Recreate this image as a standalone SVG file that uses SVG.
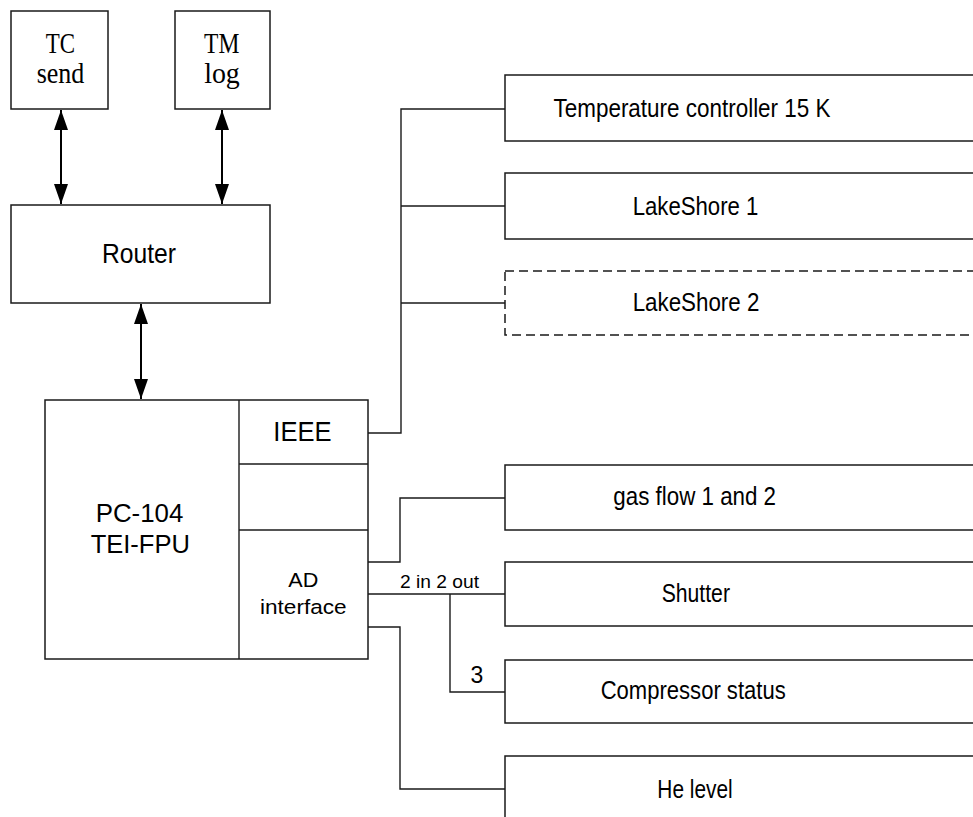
<svg xmlns="http://www.w3.org/2000/svg" width="973" height="817" viewBox="0 0 973 817">
  <style>
    .box { fill: #fff; stroke: #1a1a1a; stroke-width: 1.5; }
    .dash { stroke-dasharray: 9 5; }
    .wire { fill: none; stroke: #1a1a1a; stroke-width: 1.4; }
    .arrow { fill: none; stroke: #000; stroke-width: 2; marker-start: url(#head); marker-end: url(#head); }
    .sans { font-family: "Liberation Sans", Arial, sans-serif; fill: #000; text-anchor: middle; }
    .serif { font-family: "Liberation Serif", "Times New Roman", serif; fill: #000; text-anchor: middle; }
  </style>
  <defs>
    <marker id="head" markerUnits="userSpaceOnUse" markerWidth="20" markerHeight="14" refX="20" refY="7" orient="auto-start-reverse">
      <path d="M0,0 L20,7 L0,14 Z" fill="#000"/>
    </marker>
  </defs>
  <rect width="973" height="817" fill="#fff"/>

  <!-- connectors -->
  <g id="connectors">
    <line class="arrow" x1="61" y1="110" x2="61" y2="204"/>
    <line class="arrow" x1="222" y1="110" x2="222" y2="204"/>
    <line class="arrow" x1="141" y1="304" x2="141" y2="399"/>
    <!-- IEEE bus -->
    <path class="wire" d="M368,433 H401 V109 H505 M401,206 H505 M401,303 H505"/>
    <!-- AD interface lines -->
    <path class="wire" d="M368,562 H400 V498 H505"/>
    <path class="wire" d="M368,594 H505 M450,594 V692 H505"/>
    <path class="wire" d="M368,627 H400 V789 H505"/>
    <text class="sans" x="439.5" y="587.7" font-size="19" textLength="79" lengthAdjust="spacingAndGlyphs">2 in 2 out</text>
    <text class="sans" x="477" y="683.3" font-size="23">3</text>
  </g>

  <g id="tc-send">
    <rect class="box" x="11" y="11" width="97" height="98"/>
    <text class="serif" x="60.3" y="53.3" font-size="30" textLength="29.3" lengthAdjust="spacingAndGlyphs">TC</text>
    <text class="serif" x="60.5" y="83.3" font-size="30" textLength="47.7" lengthAdjust="spacingAndGlyphs">send</text>
  </g>

  <g id="tm-log">
    <rect class="box" x="175" y="11" width="95" height="98"/>
    <text class="serif" x="221.7" y="53.3" font-size="30" textLength="35.3" lengthAdjust="spacingAndGlyphs">TM</text>
    <text class="serif" x="222" y="83.3" font-size="30" textLength="35.7" lengthAdjust="spacingAndGlyphs">log</text>
  </g>

  <g id="router">
    <rect class="box" x="11" y="205" width="259" height="98"/>
    <text class="sans" x="139" y="263.3" font-size="28" textLength="74" lengthAdjust="spacingAndGlyphs">Router</text>
  </g>

  <g id="pc104">
    <rect class="box" x="45" y="400" width="323" height="259"/>
    <line class="wire" x1="239" y1="400" x2="239" y2="659"/>
    <line class="wire" x1="239" y1="464" x2="368" y2="464"/>
    <line class="wire" x1="239" y1="530" x2="368" y2="530"/>
    <text class="sans" x="139.5" y="521.7" font-size="26.5" textLength="87.7" lengthAdjust="spacingAndGlyphs">PC-104</text>
    <text class="sans" x="140.3" y="553.3" font-size="26.5" textLength="99.3" lengthAdjust="spacingAndGlyphs">TEI-FPU</text>
  </g>

  <g id="ieee">
    <text class="sans" x="302.5" y="441" font-size="27" textLength="58.3" lengthAdjust="spacingAndGlyphs">IEEE</text>
  </g>

  <g id="ad-interface">
    <text class="sans" x="303.3" y="587.3" font-size="20.5" textLength="30" lengthAdjust="spacingAndGlyphs">AD</text>
    <text class="sans" x="303.3" y="614.3" font-size="20.5" textLength="86.7" lengthAdjust="spacingAndGlyphs">interface</text>
  </g>

  <g id="temp-controller">
    <rect class="box" x="505" y="75" width="480" height="66"/>
    <text class="sans" x="692" y="117.3" font-size="26" textLength="277" lengthAdjust="spacingAndGlyphs">Temperature controller 15 K</text>
  </g>

  <g id="lakeshore-1">
    <rect class="box" x="505" y="173" width="480" height="66"/>
    <text class="sans" x="695.5" y="215" font-size="25.6" textLength="125.7" lengthAdjust="spacingAndGlyphs">LakeShore 1</text>
  </g>

  <g id="lakeshore-2">
    <rect class="box dash" x="505" y="271" width="480" height="64"/>
    <text class="sans" x="696" y="310.7" font-size="25.6" textLength="126.7" lengthAdjust="spacingAndGlyphs">LakeShore 2</text>
  </g>

  <g id="gas-flow">
    <rect class="box" x="505" y="465" width="480" height="65"/>
    <text class="sans" x="694.7" y="505.3" font-size="25.6" textLength="162.7" lengthAdjust="spacingAndGlyphs">gas flow 1 and 2</text>
  </g>

  <g id="shutter">
    <rect class="box" x="505" y="562" width="480" height="64"/>
    <text class="sans" x="695.8" y="601.7" font-size="25.6" textLength="68.3" lengthAdjust="spacingAndGlyphs">Shutter</text>
  </g>

  <g id="compressor-status">
    <rect class="box" x="505" y="660" width="480" height="63"/>
    <text class="sans" x="693.2" y="699.3" font-size="25.6" textLength="185" lengthAdjust="spacingAndGlyphs">Compressor status</text>
  </g>

  <g id="he-level">
    <rect class="box" x="505" y="756" width="480" height="80"/>
    <text class="sans" x="695" y="797.7" font-size="25.6" textLength="75.3" lengthAdjust="spacingAndGlyphs">He level</text>
  </g>
</svg>
